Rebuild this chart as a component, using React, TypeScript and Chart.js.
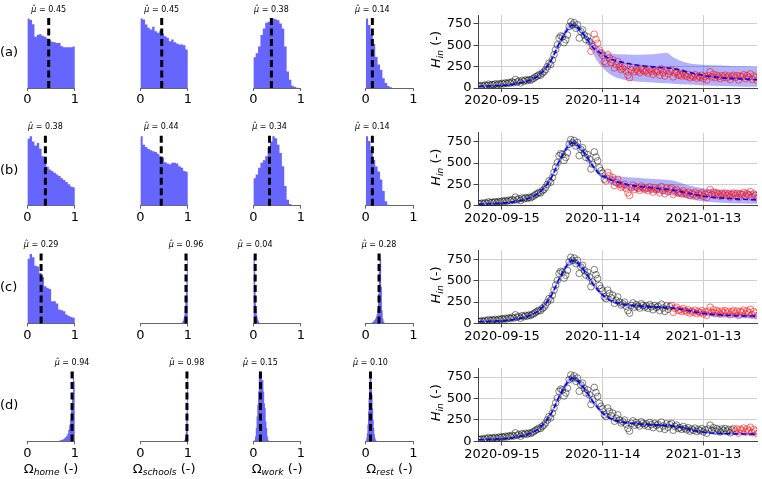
import React, { useEffect, useRef } from "react";
import { Chart, registerables } from "chart.js";

Chart.register(...registerables);

const FONT = "'DejaVu Sans', sans-serif";
const FIG_W = 762;
const FIG_H = 479;

// ---------------- layout (pixels) ----------------
const ROW_TOP = [15, 132.7, 250.4, 368.1];
const ROW_BOTTOM = [88, 205.7, 323.4, 441.4];
const HIST_LEFT = [27.3, 140.3, 253.3, 365.7];
const HIST_WIDTH = 47.6;
const TS_LEFT = 478.5;
const TS_RIGHT = 762;
const X_AXIS_H = 30;
const Y_AXIS_W = 50;

// ---------------- histogram data ----------------
const ROW_LABELS = ["(a)", "(b)", "(c)", "(d)"];
const PARAM_NAMES = ["home", "schools", "work", "rest"];

const MU_A = [0.45, 0.45, 0.38, 0.14];
const MU_B = [0.38, 0.44, 0.34, 0.14];
const MU_C = [0.29, 0.96, 0.04, 0.28];
const MU_D = [0.94, 0.98, 0.15, 0.1];

// bin range (lo, hi) per histogram, 20 bins each
const HIST_LO_A = [0, 0, 0, 0];
const HIST_HI_A = [1, 1, 1, 1];
const HIST_LO_B = [0, 0, 0, 0];
const HIST_HI_B = [1, 1, 1, 1];
const HIST_LO_C = [0, 0.84, 0, 0.1];
const HIST_HI_C = [1, 1.0, 0.16, 0.42];
const HIST_LO_D = [0.6, 0.9, 0.02, 0];
const HIST_HI_D = [1, 1, 0.34, 0.24];

const HIST_A_HOME = [213, 208, 195, 157, 163, 165, 160, 157, 152, 148, 142, 140, 138, 138, 128, 125, 125, 125, 125, 127];
const HIST_A_SCHOOLS = [208, 205, 190, 180, 175, 183, 170, 165, 172, 162, 155, 150, 140, 145, 137, 133, 130, 130, 128, 115];
const HIST_A_WORK = [93, 105, 125, 160, 180, 197, 200, 205, 210, 208, 205, 195, 180, 125, 50, 25, 7, 3, 1, 0];
const HIST_A_REST = [213, 193, 165, 135, 95, 72, 55, 30, 15, 6, 2, 0, 0, 0, 0, 0, 0, 0, 0, 0];

const HIST_B_HOME = [203, 211, 195, 183, 190, 173, 150, 130, 118, 110, 105, 100, 95, 90, 83, 78, 72, 65, 58, 56];
const HIST_B_SCHOOLS = [211, 185, 178, 172, 168, 165, 163, 158, 150, 146, 132, 128, 126, 130, 130, 128, 120, 115, 105, 103];
const HIST_B_WORK = [83, 95, 115, 130, 138, 150, 175, 195, 211, 205, 185, 160, 120, 60, 18, 5, 1, 0, 0, 0];
const HIST_B_REST = [213, 198, 170, 140, 120, 105, 80, 45, 14, 3, 0, 0, 0, 0, 0, 0, 0, 0, 0, 0];

const HIST_C_HOME = [195, 210, 200, 174, 172, 152, 140, 112, 108, 104, 67, 67, 60, 42, 40, 37, 27, 22, 19, 17];
const HIST_C_SCHOOLS = [0, 1, 1, 2, 3, 4, 6, 8, 12, 16, 22, 30, 42, 60, 80, 105, 135, 165, 195, 210];
const HIST_C_WORK = [200, 210, 205, 190, 160, 110, 60, 45, 35, 25, 20, 14, 10, 7, 5, 3, 2, 1, 1, 0];
const HIST_C_REST = [1, 2, 3, 5, 8, 10, 14, 20, 28, 45, 90, 160, 210, 195, 110, 40, 15, 6, 2, 1];

const HIST_D_HOME = [0, 1, 1, 2, 3, 4, 5, 6, 8, 10, 13, 17, 22, 35, 50, 65, 100, 145, 210, 180];
const HIST_D_SCHOOLS = [0, 1, 1, 2, 3, 4, 5, 7, 10, 14, 20, 28, 40, 60, 85, 120, 160, 200, 210, 190];
const HIST_D_WORK = [5, 15, 40, 75, 110, 150, 200, 210, 210, 200, 185, 185, 150, 115, 100, 60, 40, 15, 5, 1];
const HIST_D_REST = [3, 10, 25, 50, 90, 130, 160, 190, 210, 200, 175, 140, 100, 65, 40, 22, 12, 6, 3, 1];

const HISTS = [
  [HIST_A_HOME, HIST_A_SCHOOLS, HIST_A_WORK, HIST_A_REST],
  [HIST_B_HOME, HIST_B_SCHOOLS, HIST_B_WORK, HIST_B_REST],
  [HIST_C_HOME, HIST_C_SCHOOLS, HIST_C_WORK, HIST_C_REST],
  [HIST_D_HOME, HIST_D_SCHOOLS, HIST_D_WORK, HIST_D_REST],
];
const HIST_LO = [HIST_LO_A, HIST_LO_B, HIST_LO_C, HIST_LO_D];
const HIST_HI = [HIST_HI_A, HIST_HI_B, HIST_HI_C, HIST_HI_D];
const MUS = [MU_A, MU_B, MU_C, MU_D];

// ---------------- time series data ----------------
// day index 0 = 2020-09-01
const DATE_TICK_DAYS = [14, 74, 134];
const DATE_TICK_LABELS = ["2020-09-15", "2020-11-14", "2021-01-13"];
const Y_TICKS = [0, 250, 500, 750];

const HOSP = [
  25, 22, 30, 24, 35, 28, 45, 33, 40, 38,
  48, 36, 50, 44, 55, 48, 60, 52, 65, 58,
  72, 62, 100, 70, 82, 60, 90, 78, 95, 85,
  98, 92, 105, 115, 130, 140, 155, 150, 175, 190,
  215, 250, 290, 275, 330, 390, 450, 505, 585, 610,
  600, 530, 565, 620, 720, 775, 740, 765, 700, 740,
  585, 660, 680, 620, 565, 600, 545, 430, 485, 630,
  570, 525, 445, 410, 380, 310, 290, 390, 350, 300,
  330, 235, 270, 310, 250, 215, 230, 250, 200, 150,
  120, 210, 240, 190, 220, 200, 180, 230, 210, 190,
  205, 175, 220, 195, 160, 210, 185, 200, 150, 225,
  180, 140, 205, 165, 195, 210, 130, 175, 190, 150,
  160, 140, 175, 150, 135, 160, 120, 145, 130, 155,
  115, 140, 125, 150, 110, 135, 95, 145, 190, 130,
  160, 120, 150, 135, 110, 145, 125, 150, 120, 140,
  100, 135, 150, 120, 145, 95, 140, 130, 155, 110,
  145, 125, 165, 100, 140, 120, 90,
];

// first day not used for calibration (red circles) per row
const SPLIT_DAY = [67, 76, 115, 152];

const MODEL_DAYS = [0, 7, 14, 21, 28, 32, 36, 40, 44, 48, 52, 56, 60, 64, 68, 72, 76, 80, 86, 92, 100, 108, 112, 116, 124, 132, 140, 150, 158, 166];

const MEAN_A = [19, 25, 31, 45, 75, 105, 150, 230, 350, 520, 660, 735, 690, 590, 480, 420, 365, 330, 300, 275, 255, 240, 235, 228, 190, 155, 130, 113, 105, 97];
const LO_A = [12, 17, 22, 35, 63, 92, 135, 210, 325, 490, 625, 700, 655, 560, 410, 280, 200, 140, 100, 80, 70, 60, 55, 50, 40, 32, 26, 20, 16, 14];
const HI_A = [26, 33, 40, 56, 88, 120, 168, 252, 378, 552, 695, 770, 725, 622, 560, 470, 420, 402, 395, 390, 392, 405, 412, 360, 295, 275, 265, 258, 255, 250];

const MEAN_B = [19, 25, 31, 45, 75, 105, 150, 230, 350, 520, 660, 735, 690, 590, 470, 370, 330, 295, 260, 235, 218, 200, 192, 182, 150, 117, 98, 84, 75, 70];
const LO_B = [12, 17, 22, 35, 63, 92, 135, 210, 325, 490, 625, 700, 655, 560, 445, 348, 300, 240, 200, 175, 160, 140, 130, 118, 85, 55, 40, 30, 26, 23];
const HI_B = [26, 33, 40, 56, 88, 120, 168, 252, 378, 552, 695, 770, 725, 622, 498, 394, 360, 350, 340, 330, 320, 310, 305, 295, 245, 210, 192, 182, 176, 170];

const MEAN_C = [19, 25, 31, 45, 75, 105, 150, 230, 350, 520, 660, 735, 690, 590, 470, 370, 300, 255, 225, 208, 197, 190, 186, 180, 155, 122, 105, 93, 88, 85];
const LO_C = [12, 17, 22, 35, 63, 92, 135, 210, 325, 490, 625, 700, 655, 560, 445, 348, 282, 238, 209, 193, 182, 175, 171, 165, 130, 95, 78, 65, 60, 57];
const HI_C = [26, 33, 40, 56, 88, 120, 168, 252, 378, 552, 695, 770, 725, 622, 498, 394, 320, 273, 242, 224, 212, 205, 201, 195, 182, 150, 133, 122, 117, 113];

const MEAN_D = [19, 25, 31, 45, 75, 105, 150, 230, 350, 520, 660, 735, 690, 590, 470, 370, 300, 255, 225, 208, 197, 190, 186, 180, 150, 112, 95, 88, 86, 85];
const LO_D = [12, 17, 22, 35, 63, 92, 135, 210, 325, 490, 625, 700, 655, 560, 445, 348, 282, 238, 209, 193, 182, 175, 171, 165, 137, 100, 84, 77, 72, 68];
const HI_D = [26, 33, 40, 56, 88, 120, 168, 252, 378, 552, 695, 770, 725, 622, 498, 394, 320, 273, 242, 224, 212, 205, 201, 195, 164, 124, 107, 100, 102, 104];

const MEANS = [MEAN_A, MEAN_B, MEAN_C, MEAN_D];
const LOS = [LO_A, LO_B, LO_C, LO_D];
const HIS = [HI_A, HI_B, HI_C, HI_D];

// ---------------- styles ----------------
const HIST_COLOR = "#6666ff";
const BAND_COLOR = "rgba(0,0,255,0.3)";
const MEAN_COLOR = "#0000ff";
const OBS_COLOR = "rgba(0,0,0,0.55)";
const TEST_COLOR = "rgba(255,0,0,0.6)";
const GRID_COLOR = "#cfcfcf";
const SPINE_COLOR = "#444";

type Seg = { t: string; size: number; italic?: boolean; dy?: number };
const fontOf = (s: Seg) => `${s.italic ? "italic " : ""}${s.size}px ${FONT}`;

function drawRich(ctx: CanvasRenderingContext2D, segs: Seg[], x: number, y: number, align: "left" | "center") {
  ctx.save();
  ctx.textBaseline = "alphabetic";
  ctx.textAlign = "left";
  ctx.fillStyle = "#000";
  const widths = segs.map((s) => {
    ctx.font = fontOf(s);
    return ctx.measureText(s.t).width;
  });
  const total = widths.reduce((a, b) => a + b, 0);
  let cx = align === "center" ? x - total / 2 : x;
  segs.forEach((s, i) => {
    ctx.font = fontOf(s);
    ctx.fillText(s.t, cx, y + (s.dy || 0));
    cx += widths[i];
  });
  ctx.restore();
}

function histConfig(row: number, col: number): any {
  const counts = HISTS[row][col];
  const lo = HIST_LO[row][col];
  const hi = HIST_HI[row][col];
  const mu = MUS[row][col];
  const n = counts.length;
  const w = (hi - lo) / n;
  const pts = counts.map((c, i) => ({ x: lo + i * w, y: c }));
  pts.push({ x: hi, y: counts[n - 1] });
  const left = HIST_LEFT[col];
  const right = left + HIST_WIDTH;
  const top = ROW_TOP[row];
  const bottom = ROW_BOTTOM[row];

  const overlay = {
    id: "overlay",
    afterDatasetsDraw(chart: any) {
      const { ctx, chartArea } = chart;
      const x = chart.scales.x.getPixelForValue(mu);
      ctx.save();
      ctx.strokeStyle = "#000";
      ctx.lineWidth = 3;
      ctx.setLineDash([7, 3.5]);
      ctx.beginPath();
      ctx.moveTo(x, chartArea.bottom);
      ctx.lineTo(x, chartArea.top);
      ctx.stroke();
      ctx.restore();
      drawRich(ctx, [{ t: "\u03bc\u0302", size: 8, italic: true }, { t: " = " + mu.toFixed(2), size: 8 }], x, chartArea.top - 3.5, "center");
      if (col === 0) {
        drawRich(ctx, [{ t: ROW_LABELS[row], size: 13 }], 0, (chartArea.top + chartArea.bottom) / 2 + 4.5, "left");
      }
      if (row === 3) {
        drawRich(
          ctx,
          [
            { t: "\u03a9", size: 13 },
            { t: PARAM_NAMES[col], size: 9.1, italic: true, dy: 2.3 },
            { t: " (-)", size: 13 },
          ],
          (chartArea.left + chartArea.right) / 2,
          472.5,
          "center"
        );
      }
    },
  };

  return {
    type: "line",
    data: {
      datasets: [
        {
          data: pts,
          stepped: "before",
          fill: "origin",
          backgroundColor: HIST_COLOR,
          borderColor: "rgba(0,0,0,0)",
          borderWidth: 0,
          pointRadius: 0,
        },
      ],
    },
    options: {
      responsive: false,
      animation: false,
      devicePixelRatio: 1,
      events: [],
      layout: { padding: { left, right: FIG_W - right, top, bottom: FIG_H - bottom - X_AXIS_H } },
      plugins: { legend: { display: false }, tooltip: { enabled: false } },
      scales: {
        x: {
          type: "linear",
          min: 0,
          max: 1,
          afterBuildTicks: (s: any) => {
            s.ticks = [{ value: 0 }, { value: 1 }];
          },
          afterFit: (s: any) => {
            s.height = X_AXIS_H;
            s.paddingLeft = 0;
            s.paddingRight = 0;
          },
          ticks: { font: { family: FONT, size: 13 }, color: "#000", padding: 1, maxRotation: 0, autoSkip: false, callback: (v: any) => String(v) },
          grid: { drawOnChartArea: false, drawTicks: true, tickLength: 3, tickColor: "#666", color: "#666" },
          border: { display: true, color: "#666", width: 1 },
        },
        y: { display: false, min: 0, max: Math.max(...counts) * 1.05 },
      },
    },
    plugins: [overlay],
  };
}

function tsConfig(row: number): any {
  const split = SPLIT_DAY[row];
  const obs = HOSP.map((v, d) => ({ x: d, y: v }));
  const black = obs.filter((p) => p.x < split);
  const red = obs.filter((p) => p.x >= split);
  const series = (arr: number[]) => MODEL_DAYS.map((d, i) => ({ x: d, y: arr[i] }));
  const top = ROW_TOP[row];
  const bottom = ROW_BOTTOM[row];

  const overlay = {
    id: "ylabel",
    afterDraw(chart: any) {
      const { ctx, chartArea } = chart;
      ctx.save();
      ctx.translate(440.3, (chartArea.top + chartArea.bottom) / 2 - 2);
      ctx.rotate(-Math.PI / 2);
      drawRich(
        ctx,
        [
          { t: "H", size: 13, italic: true },
          { t: "in", size: 9.1, italic: true, dy: 2.3 },
          { t: " (-)", size: 13 },
        ],
        0,
        0,
        "center"
      );
      ctx.restore();
    },
  };

  return {
    type: "line",
    data: {
      datasets: [
        {
          data: series(MEANS[row]),
          borderColor: MEAN_COLOR,
          borderWidth: 1.6,
          borderDash: [5, 3],
          pointRadius: 0,
          fill: false,
          cubicInterpolationMode: "monotone",
          order: 0,
        },
        {
          data: series(HIS[row]),
          borderColor: "rgba(0,0,0,0)",
          borderWidth: 0,
          pointRadius: 0,
          fill: "+1",
          backgroundColor: BAND_COLOR,
          cubicInterpolationMode: "monotone",
          order: 3,
        },
        {
          data: series(LOS[row]),
          borderColor: "rgba(0,0,0,0)",
          borderWidth: 0,
          pointRadius: 0,
          fill: false,
          cubicInterpolationMode: "monotone",
          order: 4,
        },
        {
          data: red,
          showLine: false,
          pointRadius: 3.3,
          pointBorderWidth: 0.9,
          pointBorderColor: TEST_COLOR,
          pointBackgroundColor: "rgba(0,0,0,0)",
          order: 2,
        },
        {
          data: black,
          showLine: false,
          pointRadius: 3.3,
          pointBorderWidth: 0.9,
          pointBorderColor: OBS_COLOR,
          pointBackgroundColor: "rgba(0,0,0,0)",
          order: 1,
        },
      ],
    },
    options: {
      responsive: false,
      animation: false,
      devicePixelRatio: 1,
      events: [],
      layout: {
        padding: { left: TS_LEFT - Y_AXIS_W, right: FIG_W - TS_RIGHT, top, bottom: FIG_H - bottom - X_AXIS_H },
      },
      plugins: { legend: { display: false }, tooltip: { enabled: false } },
      scales: {
        x: {
          type: "linear",
          min: 0,
          max: 166,
          afterBuildTicks: (s: any) => {
            s.ticks = DATE_TICK_DAYS.map((v) => ({ value: v }));
          },
          afterFit: (s: any) => {
            s.height = X_AXIS_H;
            s.paddingLeft = 0;
            s.paddingRight = 0;
          },
          ticks: {
            font: { family: FONT, size: 13 },
            color: "#000",
            padding: 1,
            maxRotation: 0,
            autoSkip: false,
            callback: (v: any) => {
              const i = DATE_TICK_DAYS.indexOf(v);
              return i >= 0 ? DATE_TICK_LABELS[i] : "";
            },
          },
          grid: { color: GRID_COLOR, lineWidth: 1, drawTicks: true, tickLength: 4, tickColor: SPINE_COLOR },
          border: { display: true, color: SPINE_COLOR, width: 1 },
        },
        y: {
          type: "linear",
          min: 0,
          max: 855,
          afterBuildTicks: (s: any) => {
            s.ticks = Y_TICKS.map((v) => ({ value: v }));
          },
          afterFit: (s: any) => {
            s.width = Y_AXIS_W;
            s.paddingTop = 0;
            s.paddingBottom = 0;
          },
          ticks: { font: { family: FONT, size: 13 }, color: "#000", padding: 2 },
          grid: { color: GRID_COLOR, lineWidth: 1, drawTicks: true, tickLength: 5, tickColor: SPINE_COLOR },
          border: { display: true, color: SPINE_COLOR, width: 1 },
        },
      },
    },
    plugins: [overlay],
  };
}

function ChartLayer({ make }: { make: () => any }) {
  const ref = useRef<HTMLCanvasElement>(null);
  useEffect(() => {
    const chart = new Chart(ref.current as HTMLCanvasElement, make());
    return () => chart.destroy();
  }, []);
  return (
    <canvas
      ref={ref}
      width={FIG_W}
      height={FIG_H}
      style={{ position: "absolute", left: 0, top: 0, width: FIG_W, height: FIG_H }}
    />
  );
}

export default function App() {
  const layers: React.ReactNode[] = [];
  for (let r = 0; r < 4; r++) {
    for (let c = 0; c < 4; c++) {
      layers.push(<ChartLayer key={`h${r}${c}`} make={() => histConfig(r, c)} />);
    }
    layers.push(<ChartLayer key={`t${r}`} make={() => tsConfig(r)} />);
  }
  return (
    <div
      style={{
        position: "absolute",
        left: 0,
        top: 0,
        width: FIG_W,
        height: FIG_H,
        background: "#fff",
        overflow: "hidden",
      }}
    >
      {layers}
    </div>
  );
}
